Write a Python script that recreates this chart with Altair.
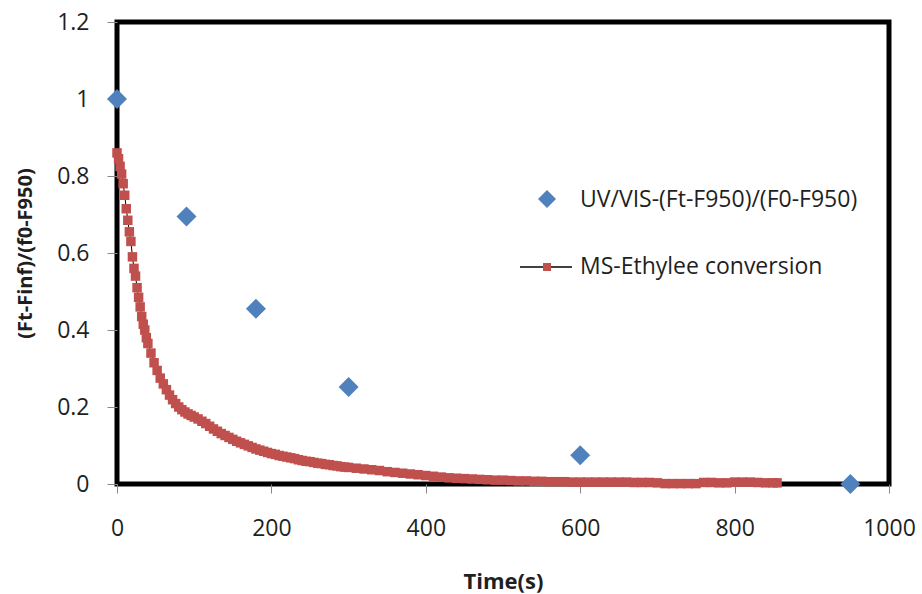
import altair as alt
import pandas as pd

# ---- data ----
uv_time = [0, 90, 180, 300, 600, 950]
uv_value = [1.0, 0.695, 0.455, 0.252, 0.075, 0.0]

ms_time = [0, 2, 4, 6, 8, 10, 12, 14, 16, 18, 20, 22, 24, 26, 28, 30, 32, 34, 36, 38, 40,
           44, 48, 52, 56, 60, 64, 68, 72, 76, 80, 84, 88, 92, 96, 100,
           105, 110, 115, 120, 125, 130, 135, 140, 145, 150,
           155, 160, 165, 170, 175, 180, 185, 190, 195, 200,
           205, 210, 215, 220, 225, 230, 235, 240, 245, 250,
           255, 260, 265, 270, 275, 280, 285, 290, 295, 300,
           310, 320, 330, 340, 350, 360, 370, 380, 390, 400,
           410, 420, 430, 440, 450, 460, 470, 480, 490, 500,
           510, 520, 530, 540, 550, 560, 570, 580, 590, 600,
           610, 620, 630, 640, 650, 660, 670, 680, 690, 700,
           710, 720, 730, 740, 750, 760, 770, 780, 790, 800,
           810, 820, 830, 840, 850, 855]
ms_value = [0.86, 0.845, 0.825, 0.805, 0.78, 0.75, 0.715, 0.685, 0.655, 0.63, 0.59,
            0.56, 0.54, 0.51, 0.485, 0.46, 0.435, 0.415, 0.40, 0.38, 0.365,
            0.34, 0.315, 0.295, 0.275, 0.26, 0.245, 0.231, 0.219, 0.209, 0.20,
            0.193, 0.187, 0.182, 0.178, 0.174,
            0.169, 0.163, 0.157, 0.15, 0.143, 0.137, 0.131, 0.126, 0.121, 0.116,
            0.111, 0.107, 0.103, 0.099, 0.095, 0.091, 0.088, 0.085, 0.082, 0.079,
            0.077, 0.074, 0.072, 0.07, 0.068, 0.066, 0.063, 0.061, 0.059, 0.058,
            0.056, 0.054, 0.053, 0.051, 0.05, 0.048, 0.047, 0.045, 0.044, 0.043,
            0.041, 0.039, 0.037, 0.035, 0.032, 0.030, 0.028, 0.026, 0.024, 0.022,
            0.020, 0.018, 0.016, 0.015, 0.014, 0.013, 0.012, 0.011, 0.010, 0.010,
            0.009, 0.008, 0.008, 0.007, 0.007, 0.006, 0.006, 0.006, 0.005, 0.005,
            0.005, 0.005, 0.005, 0.005, 0.005, 0.005, 0.004, 0.004, 0.004, 0.003,
            0.001, 0.001, 0.001, 0.001, 0.001, 0.004, 0.004, 0.003, 0.003, 0.005,
            0.005, 0.005, 0.004, 0.003, 0.003, 0.003]

x_ticks = [0, 200, 400, 600, 800, 1000]
y_ticks = [0, 0.2, 0.4, 0.6, 0.8, 1, 1.2]
legend_labels = ["UV/VIS-(Ft-F950)/(F0-F950)", "MS-Ethylee conversion"]

FONT = "Open Sans"
TXT = "#1f1f1f"
BLUE = "#4F81BD"
RED = "#C0504D"

uv_df = pd.DataFrame({"t": uv_time, "v": uv_value})
ms_df = pd.DataFrame({"t": ms_time, "v": ms_value})

xscale = alt.Scale(domain=[0, 1000], nice=False, zero=False)
yscale = alt.Scale(domain=[0, 1.2], nice=False)

xaxis = alt.Axis(title="Time(s)", values=x_ticks, format="d", grid=False, domain=False,
                 tickSize=9, tickColor="#888888", labelPadding=24, labelFlush=False,
                 labelOverlap=False, labelFont=FONT, labelFontSize=23, labelColor=TXT,
                 titleFont=FONT, titleFontSize=22, titleFontWeight="bold", titleColor=TXT,
                 titleY=97, titleBaseline="middle")
yaxis = alt.Axis(title="(Ft-Finf)/(f0-F950)", values=y_ticks, format="~g", grid=False,
                 domain=False, tickSize=10, tickColor="#888888", labelPadding=18,
                 labelFlush=False, labelOverlap=False, labelFont=FONT, labelFontSize=23,
                 labelColor=TXT, titleFont=FONT, titleFontSize=20, titleFontWeight="bold",
                 titleColor=TXT, titleX=-92, titleY=231, titleBaseline="middle",
                 titleAlign="center", titleAngle=270)

line = alt.Chart(ms_df).mark_line(color="black", strokeWidth=1).encode(
    x=alt.X("t:Q", scale=xscale, axis=xaxis),
    y=alt.Y("v:Q", scale=yscale, axis=yaxis),
    order="t:Q",
)
ms_pts = alt.Chart(ms_df).mark_point(shape="square", filled=True, size=90, color=RED,
                                     opacity=1).encode(x="t:Q", y="v:Q")
uv_pts = alt.Chart(uv_df).mark_point(shape="diamond", filled=True, size=400, color=BLUE,
                                     opacity=1).encode(x="t:Q", y="v:Q")

leg1 = pd.DataFrame({"label": [legend_labels[0]]})
leg2 = pd.DataFrame({"label": [legend_labels[1]]})

leg1_sym = alt.Chart(leg1).mark_point(shape="diamond", filled=True, size=324, color=BLUE,
                                      opacity=1).encode(x=alt.value(430), y=alt.value(177))
leg1_txt = alt.Chart(leg1).mark_text(align="left", baseline="middle", font=FONT, fontSize=23,
                                     color=TXT).encode(x=alt.value(463), y=alt.value(178),
                                                       text="label:N")
leg2_rule = alt.Chart(leg2).mark_rule(color="black", strokeWidth=1.5).encode(
    x=alt.value(403), x2=alt.value(455), y=alt.value(245))
leg2_sym = alt.Chart(leg2).mark_point(shape="square", filled=True, size=64, color=RED,
                                      opacity=1).encode(x=alt.value(430), y=alt.value(245))
leg2_txt = alt.Chart(leg2).mark_text(align="left", baseline="middle", font=FONT, fontSize=23,
                                     color=TXT).encode(x=alt.value(463), y=alt.value(245),
                                                       text="label:N")

chart = alt.layer(line, ms_pts, uv_pts, leg1_sym, leg1_txt, leg2_rule, leg2_sym, leg2_txt).properties(
    width=772, height=462,
    padding={"left": 117, "top": 22, "right": 33, "bottom": 110},
    autosize=alt.AutoSizeParams(type="none"),
    background="white",
).configure_view(stroke="black", strokeWidth=5)

chart.save("out.html", embed_options={"renderer": "svg", "actions": False})
